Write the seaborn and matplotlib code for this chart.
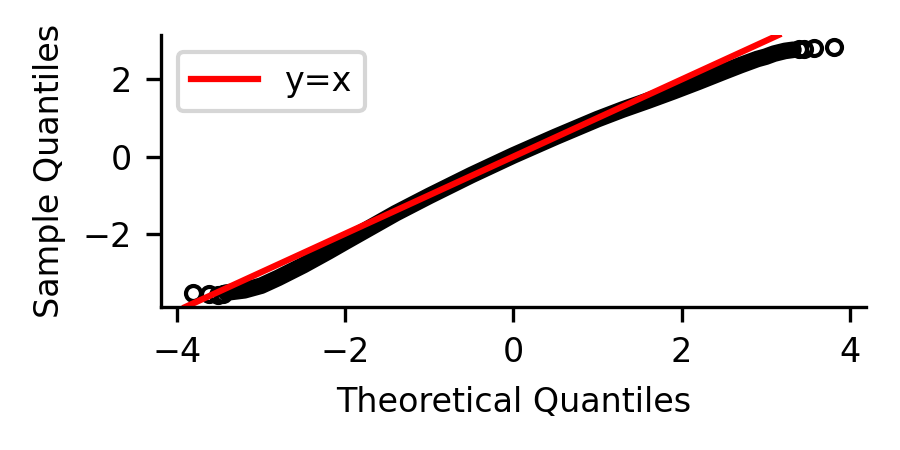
import numpy as np
import pandas as pd
import matplotlib
matplotlib.use("Agg")
import matplotlib.pyplot as plt
import seaborn as sns

# dense body of the Q-Q cloud (theoretical -> sample)
body_theoretical = [-3.42, -3.2, -3.0, -2.8, -2.5, -2.2, -2.0, -1.7, -1.4, -1.0,
                    -0.5, 0.0, 0.5, 1.0, 1.3, 1.6, 1.9, 2.2, 2.5, 2.7,
                    2.9, 3.0, 3.1, 3.23, 3.33]
body_sample = [-3.53, -3.47, -3.35, -3.15, -2.82, -2.46, -2.21, -1.84, -1.47, -1.02,
               -0.48, 0.03, 0.51, 0.97, 1.22, 1.45, 1.69, 1.94, 2.20, 2.37,
               2.53, 2.59, 2.67, 2.74, 2.77]

# isolated points at both tails
tail_theoretical = [-3.81, -3.62, -3.51, -3.45, 3.40, 3.45, 3.58, 3.81]
tail_sample = [-3.54, -3.57, -3.58, -3.56, 2.79, 2.80, 2.82, 2.83]

body = pd.DataFrame({"theoretical": body_theoretical, "sample": body_sample})
tails = pd.DataFrame({"theoretical": tail_theoretical, "sample": tail_sample})

plt.rcParams["font.family"] = ["DejaVu Sans"]
plt.rcParams["font.size"] = 8

fig = plt.figure(figsize=(3, 1.5), dpi=300)
ax = fig.add_axes([0.179, 0.318, 0.783, 0.604])

sns.lineplot(data=body, x="theoretical", y="sample", ax=ax, color="black",
             lw=4.0, sort=False, estimator=None, legend=False,
             solid_capstyle="round")
sns.lineplot(data=tails, x="theoretical", y="sample", ax=ax, color="black",
             linestyle="", marker="o", markersize=3.6, markerfacecolor="none",
             markeredgecolor="black", markeredgewidth=1.0, sort=False,
             estimator=None, legend=False)

ax.axline((0, 0), slope=1, color="red", lw=1.5, label="y=x")

ax.set_xlabel("Theoretical Quantiles", fontsize=8)
ax.set_ylabel("Sample Quantiles", fontsize=8)
ax.tick_params(labelsize=8, width=0.8, length=3.5)
ax.legend(loc="upper left", fontsize=8)
sns.despine(ax=ax)

fig.savefig("out.png", dpi=300)
